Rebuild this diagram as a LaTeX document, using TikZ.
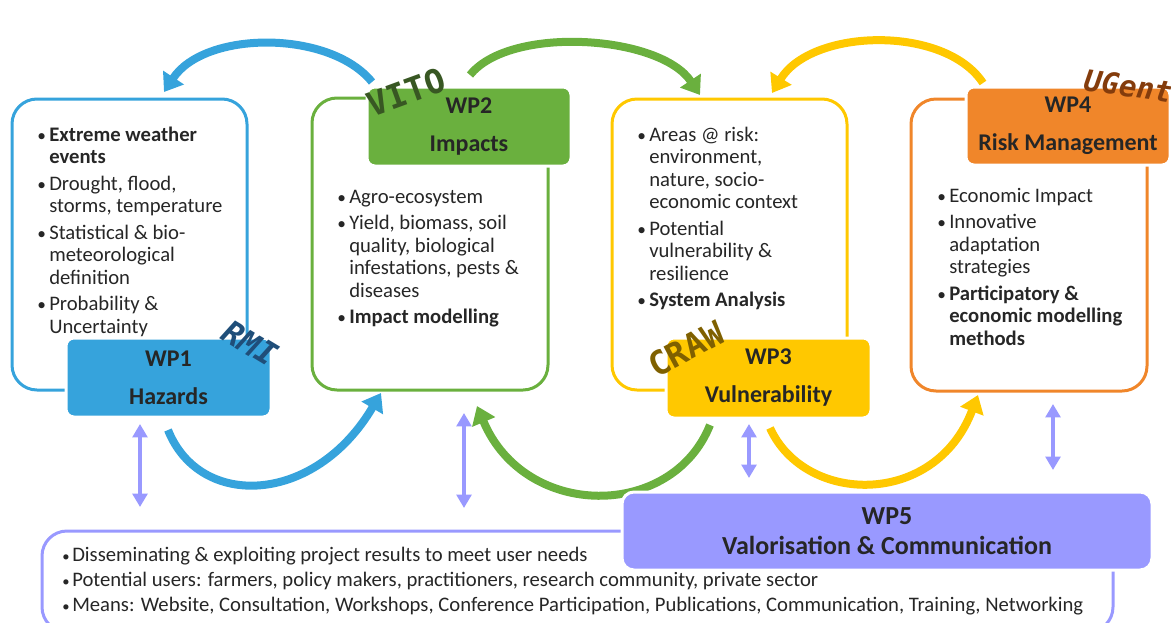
\documentclass[tikz,border=0pt]{standalone}
\usepackage{fontspec}
\setmainfont{Carlito}
\newfontfamily\handfont{DejaVu Sans Mono}
\usetikzlibrary{arrows.meta}
\definecolor{cblue}{HTML}{36A3DC}
\definecolor{cgreen}{HTML}{6AB03E}
\definecolor{cyellow}{HTML}{FFC800}
\definecolor{corange}{HTML}{F0862A}
\definecolor{cpurple}{HTML}{9999FF}
\definecolor{ctext}{HTML}{262626}
\definecolor{labblue}{HTML}{1F4E79}
\definecolor{labgreen}{HTML}{385723}
\definecolor{labolive}{HTML}{7F6000}
\definecolor{labbrown}{HTML}{843C0C}
\newcommand\bu{\makebox[9pt][l]{\fontsize{13}{13}\selectfont\textbullet}}
\newcommand\bub{\makebox[7.5pt][l]{\fontsize{11}{11}\selectfont\textbullet}}
\tikzset{
  outline/.style={line width=2.25pt, rounded corners=18.75pt},
  wpbox/.style={draw=white, line width=2.25pt, rounded corners=6pt, inner sep=0pt,
    font=\bfseries\fontsize{18}{28.5}\selectfont, text=ctext, align=center},
  bodytext/.style={inner sep=0pt, anchor=base west, text=ctext,
    font=\fontsize{15.5}{16.9}\selectfont},
  bigarrow/.style={line width=6pt, -{Triangle[width=18pt,length=13pt]}},
  duoarrow/.style={line width=3pt, cpurple, {Triangle[width=11pt,length=10pt]}-{Triangle[width=11pt,length=10pt]}},
  lab/.style={inner sep=0pt},
}
\begin{document}
\begin{tikzpicture}[x=0.75pt,y=-0.75pt]
\useasboundingbox (0,0) rectangle (1171,622);
% coordinates for arrows
\coordinate (bts) at (372,82);  \coordinate (bte) at (164,92);
\coordinate (gts) at (470,75);  \coordinate (gte) at (700,95);
\coordinate (yts) at (983,83);  \coordinate (yte) at (772,93);
\coordinate (bbs) at (168,430); \coordinate (bbe) at (381,393);
\coordinate (gbs) at (710,425); \coordinate (gbe) at (477,406);
\coordinate (ybs) at (770,428); \coordinate (ybe) at (978,395);
% curved arrows
\draw[bigarrow, cblue] (bts) .. controls (330,30) and (205,30) .. (bte);
\draw[bigarrow, cgreen] (gts) .. controls (510,25) and (660,35) .. (gte);
\draw[bigarrow, cyellow] (yts) .. controls (945,25) and (812,28) .. (yte);
\draw[bigarrow, cblue] (bbs) .. controls (200,510) and (315,505) .. (bbe);
\draw[bigarrow, cgreen] (gbs) .. controls (672,520) and (525,520) .. (gbe);
\draw[bigarrow, cyellow] (ybs) .. controls (805,505) and (935,508) .. (ybe);
% purple double arrows
\coordinate (p1a) at (140,424);  \coordinate (p1b) at (140,507);
\coordinate (p2a) at (464,413);  \coordinate (p2b) at (464,508);
\coordinate (p3a) at (749,424);  \coordinate (p3b) at (749,478);
\coordinate (p4a) at (1053,404); \coordinate (p4b) at (1053,470);
\draw[duoarrow] (p1a) -- (p1b);
\draw[duoarrow] (p2a) -- (p2b);
\draw[duoarrow] (p3a) -- (p3b);
\draw[duoarrow] (p4a) -- (p4b);
% outlines
\draw[outline, cblue] (12,99) rectangle (247,390);
\draw[outline, cgreen] (312,98) rectangle (548,390);
\draw[outline, cyellow] (612,99) rectangle (847,390);
\draw[outline, corange] (911,99) rectangle (1147,391);
\draw[outline, cpurple] (42,531) rectangle (1113,632);
% body texts
\node[bodytext] (t1) at (37,141) {\begin{tabular}[t]{@{}l@{}l@{}}
\bu & \textbf{Extreme weather}\\
 & \textbf{events}\\[3pt]
\bu & Drought, flood,\\
 & storms, temperature\\[3pt]
\bu & Statistical \& bio-\\
 & meteorological\\
 & definition\\[3pt]
\bu & Probability \&\\
 & Uncertainty
\end{tabular}};
\node[bodytext] (t2) at (337,203) {\begin{tabular}[t]{@{}l@{}l@{}}
\bu & Agro-ecosystem\\[3pt]
\bu & Yield, biomass, soil\\
 & quality, biological\\
 & infestations, pests \&\\
 & diseases\\[3pt]
\bu & \textbf{Impact modelling}
\end{tabular}};
\node[bodytext] (t3) at (637,141) {\begin{tabular}[t]{@{}l@{}l@{}}
\bu & Areas @ risk:\\
 & environment,\\
 & nature, socio-\\
 & economic context\\[3pt]
\bu & Potential\\
 & vulnerability \&\\
 & resilience\\[3pt]
\bu & \textbf{System Analysis}
\end{tabular}};
\node[bodytext] (t4) at (937,202) {\begin{tabular}[t]{@{}l@{}l@{}}
\bu & Economic Impact\\[3pt]
\bu & Innovative\\
 & adaptation\\
 & strategies\\[3pt]
\bu & \textbf{Participatory \&}\\
 & \textbf{economic modelling}\\
 & \textbf{methods}
\end{tabular}};
\node[bodytext, font=\fontsize{15.5}{18.75}\selectfont] (t5) at (62,561) {\begin{tabular}[t]{@{}l@{}l@{}}
\bub & Disseminating \& exploiting project results to meet user needs\\
\bub & Potential users: farmers, policy makers, practitioners, research community, private sector\\
\bub & Means: Website, Consultation, Workshops, Conference Participation, Publications, Communication, Training, Networking
\end{tabular}};
% filled WP boxes
\node[wpbox, fill=cblue, minimum width=205*0.75pt, minimum height=79*0.75pt] (wp1) at (168.5,377.5) {WP1\\Hazards};
\node[wpbox, fill=cgreen, minimum width=204*0.75pt, minimum height=79*0.75pt] (wp2) at (469,126.5) {WP2\\Impacts};
\node[wpbox, fill=cyellow, minimum width=205*0.75pt, minimum height=80*0.75pt] (wp3) at (768.5,378) {WP3\\Vulnerability};
\node[wpbox, fill=corange, minimum width=204*0.75pt, minimum height=78*0.75pt] (wp4) at (1068,126) {WP4\\Risk Management};
\node[wpbox, fill=cpurple, rounded corners=9pt, minimum width=530*0.75pt, minimum height=78*0.75pt,
  font=\bfseries\fontsize{19.5}{22.5}\selectfont] (wp5) at (887,531) {WP5\\Valorisation \& Communication};
% partner labels
\node[lab, text=labblue, rotate=-31, font=\handfont\bfseries\itshape\fontsize{24}{24}\selectfont] (rmi) at (250,343) {RMI};
\node[lab, text=labgreen, rotate=20, font=\handfont\bfseries\fontsize{25}{25}\selectfont] (vito) at (406,92) {VITO};
\node[lab, text=labolive, rotate=28, font=\handfont\bfseries\fontsize{25}{25}\selectfont] (craw) at (686,349) {CRAW};
\node[lab, text=labbrown, rotate=-8, font=\handfont\bfseries\itshape\fontsize{22}{22}\selectfont] (ugent) at (1128,86) {UGent};
\end{tikzpicture}
\end{document}
